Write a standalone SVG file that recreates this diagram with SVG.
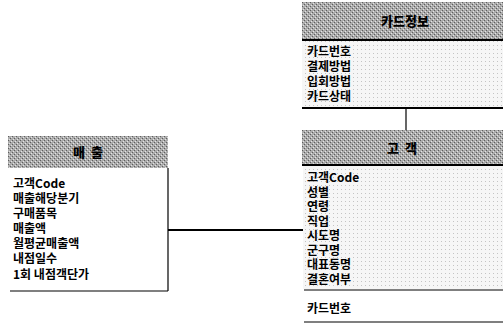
<svg xmlns="http://www.w3.org/2000/svg" width="503" height="327" viewBox="0 0 503 327">
<defs>
<pattern id="hdr" width="4" height="4" patternUnits="userSpaceOnUse">
<rect width="4" height="4" fill="#ababab"/>
<rect x="0" y="0" width="1" height="1" fill="#5e5e5e"/>
<rect x="2" y="2" width="1" height="1" fill="#5e5e5e"/>
<rect x="1" y="3" width="1" height="1" fill="#e4e4e4"/>
<rect x="3" y="1" width="1" height="1" fill="#e4e4e4"/>
</pattern>
<pattern id="body" width="4" height="4" patternUnits="userSpaceOnUse">
<rect width="4" height="4" fill="#f6f6f6"/>
<rect x="1" y="1" width="1" height="1" fill="#c4c4c4"/>
</pattern>
</defs>
<style>
text{font-family:"Noto Sans CJK KR","Noto Sans",sans-serif;font-size:12px;font-weight:700;fill:#000}
.t{font-size:13px;font-weight:900;text-anchor:middle}
.ln{stroke:#000;stroke-width:2;fill:none}
.thin{stroke:#000;stroke-width:1.2;fill:none}
</style>
<rect width="503" height="327" fill="#fff"/>
<g id="connectors">
<line class="thin" x1="406" y1="108" x2="406" y2="130"/>
<line class="ln" x1="168" y1="230" x2="304" y2="230"/>
</g>
<g id="card">
<rect x="302" y="2" width="201" height="38" fill="url(#hdr)"/>
<line class="ln" x1="302" y1="40" x2="503" y2="40"/>
<rect x="302" y="41" width="201" height="66" fill="url(#body)"/>
<text class="t" x="405" y="26">카드정보</text>
<text x="307" y="56">카드번호</text>
<text x="307" y="71">결제방법</text>
<text x="307" y="86">입회방법</text>
<text x="307" y="101">카드상태</text>
<line class="ln" x1="302" y1="108" x2="503" y2="108"/>
</g>
<g id="customer">
<rect x="302" y="130" width="201" height="35" fill="url(#hdr)"/>
<line class="ln" x1="302" y1="165" x2="503" y2="165"/>
<rect x="303" y="166" width="200" height="123" fill="url(#body)"/>
<text class="t" x="402" y="153" xml:space="preserve">고  객</text>
<text x="307" y="182">고객Code</text>
<text x="307" y="196.5">성별</text>
<text x="307" y="211">연령</text>
<text x="307" y="225.5">직업</text>
<text x="307" y="240">시도명</text>
<text x="307" y="254.5">군구명</text>
<text x="307" y="269">대표동명</text>
<text x="307" y="283.5">결혼여부</text>
<line class="thin" x1="304" y1="290" x2="503" y2="290"/>
<text x="307" y="313">카드번호</text>
<line class="thin" x1="304" y1="322" x2="503" y2="322"/>
</g>
<g id="sales">
<rect x="8" y="136" width="160" height="32" fill="url(#hdr)"/>
<text class="t" x="88" y="157" xml:space="preserve">매  출</text>
<line class="thin" x1="168" y1="168" x2="168" y2="291"/>
<text x="13" y="188">고객Code</text>
<text x="13" y="203">매출해당분기</text>
<text x="13" y="218">구매품목</text>
<text x="13" y="233">매출액</text>
<text x="13" y="248">월평균매출액</text>
<text x="13" y="263">내점일수</text>
<text x="13" y="279">1회 내점객단가</text>
<line class="thin" x1="10" y1="291" x2="168" y2="291"/>
</g>
</svg>
